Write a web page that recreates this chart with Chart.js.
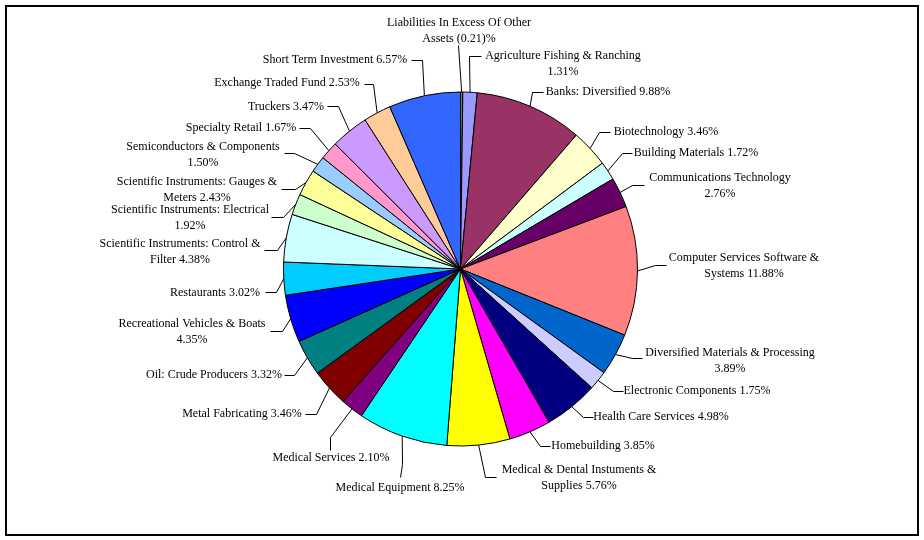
<!DOCTYPE html>
<html>
<head>
<meta charset="utf-8">
<script src="https://cdn.jsdelivr.net/npm/chart.js@4.4.1/dist/chart.umd.min.js"></script>
<style>
  html, body { margin: 0; padding: 0; background: #fff; }
  #wrap { width: 924px; height: 540px; position: relative; }
</style>
</head>
<body>
<div id="wrap"><canvas id="sectorChart"></canvas></div>
<script>
// categories and weights (%), clockwise from 12 o'clock
const categories = [
    'Liabilities In Excess Of Other Assets', 'Agriculture Fishing & Ranching', 'Banks: Diversified',
    'Biotechnology', 'Building Materials', 'Communications Technology',
    'Computer Services Software & Systems', 'Diversified Materials & Processing', 'Electronic Components',
    'Health Care Services', 'Homebuilding', 'Medical & Dental Instuments & Supplies',
    'Medical Equipment', 'Medical Services', 'Metal Fabricating',
    'Oil: Crude Producers', 'Recreational Vehicles & Boats', 'Restaurants',
    'Scientific Instruments: Control & Filter', 'Scientific Instruments: Electrical', 'Scientific Instruments: Gauges & Meters',
    'Semiconductors & Components', 'Specialty Retail', 'Truckers',
    'Exchange Traded Fund', 'Short Term Investment'
];
const weights = [
    -0.21, 1.31, 9.88,
    3.46, 1.72, 2.76,
    11.88, 3.89, 1.75,
    4.98, 3.85, 5.76,
    8.25, 2.10, 3.46,
    3.32, 4.35, 3.02,
    4.38, 1.92, 2.43,
    1.50, 1.67, 3.47,
    2.53, 6.57
];
const sliceColors = [
    '#339966', '#9999FF', '#993366',
    '#FFFFCC', '#CCFFFF', '#660066',
    '#FF8080', '#0066CC', '#CCCCFF',
    '#000080', '#FF00FF', '#FFFF00',
    '#00FFFF', '#800080', '#800000',
    '#008080', '#0000FF', '#00CCFF',
    '#CCFFFF', '#CCFFCC', '#FFFF99',
    '#99CCFF', '#FF99CC', '#CC99FF',
    '#FFCC99', '#3366FF'
];

// label layout: words on first line (0 = one line), centre x, first line y,
// leader elbow x/y, leader end x/y
const labelLayout = [
    [5, 459, 23, 458, 45, 458, 45],
    [4, 563, 56, 469, 56, 481, 56],
    [0, 608, 92, 532, 92, 543, 92],
    [0, 666, 132, 599, 132, 610, 132],
    [0, 696, 153, 622, 153, 632, 153],
    [2, 720, 178, 632, 185, 644, 185],
    [4, 744, 258, 655, 265, 666, 265],
    [4, 730, 353, 632, 358, 642, 358],
    [0, 697, 391, 613, 391, 623, 391],
    [0, 661, 417, 583, 417, 593, 417],
    [0, 603, 446, 540, 446, 550, 446],
    [5, 579, 470, 485, 477, 496, 477],
    [0, 400, 488, 402, 464, 400, 477],
    [0, 331, 458, 330, 437, 330, 450],
    [0, 242, 414, 316, 414, 305, 414],
    [0, 214, 375, 294, 375, 284, 375],
    [4, 192, 324, 282, 331, 270, 331],
    [0, 215, 293, 276, 292, 265, 292],
    [4, 180, 244, 277, 250, 264, 250],
    [3, 190, 210, 283, 217, 271, 217],
    [4, 197, 182, 295, 189, 281, 189],
    [3, 203, 147, 294, 153, 284, 153],
    [0, 241, 128, 310, 128, 299, 128],
    [0, 286, 107, 338, 106, 327, 106],
    [0, 287, 83, 373, 84, 364, 84],
    [0, 335, 60, 422, 60, 411, 60]
];

function fmtPct(v) {
    return v < 0 ? '(' + Math.abs(v).toFixed(2) + ')%' : v.toFixed(2) + '%';
}

function labelLines(i) {
    const words = (categories[i] + ' ' + fmtPct(weights[i])).split(' ');
    const n = labelLayout[i][0];
    if (!n) return [words.join(' ')];
    return [words.slice(0, n).join(' '), words.slice(n).join(' ')];
}

const outsideLabels = {
    id: 'outsideLabels',
    afterDatasetsDraw(chart) {
        const c = chart.ctx;
        const arcs = chart.getDatasetMeta(0).data;
        c.save();
        c.strokeStyle = '#000';
        c.lineWidth = 1;
        c.fillStyle = '#000';
        c.font = '12px "Liberation Serif", "Times New Roman", serif';
        c.textAlign = 'center';
        c.textBaseline = 'middle';
        arcs.forEach((arc, i) => {
            const p = arc.getProps(['x', 'y', 'startAngle', 'endAngle', 'outerRadius'], true);
            const mid = (p.startAngle + p.endAngle) / 2;
            const ax = p.x + Math.cos(mid) * p.outerRadius;
            const ay = p.y + Math.sin(mid) * p.outerRadius;
            const L = labelLayout[i];
            c.beginPath();
            c.moveTo(ax, ay);
            c.lineTo(L[3] + 0.5, L[4] + 0.5);
            c.lineTo(L[5] + 0.5, L[6] + 0.5);
            c.stroke();
            labelLines(i).forEach((t, k) => c.fillText(t, L[1], L[2] + k * 16));
        });
        // outer frame
        c.lineWidth = 2;
        c.strokeRect(6, 6, 912, 529);
        c.restore();
    }
};

const ctx = document.getElementById('sectorChart').getContext('2d');
const sectorChart = new Chart(ctx, {
    type: 'pie',
    data: {
        labels: categories,
        datasets: [{
            data: weights.map(Math.abs),
            backgroundColor: sliceColors,
            borderColor: '#000',
            borderWidth: 1
        }]
    },
    options: {
        responsive: true,
        maintainAspectRatio: false,
        animation: false,
        radius: 177,
        layout: { padding: { left: 0, right: 3, top: 0, bottom: 2 } },
        plugins: {
            legend: { display: false },
            tooltip: { enabled: false }
        }
    },
    plugins: [outsideLabels]
});
</script>
</body>
</html>
